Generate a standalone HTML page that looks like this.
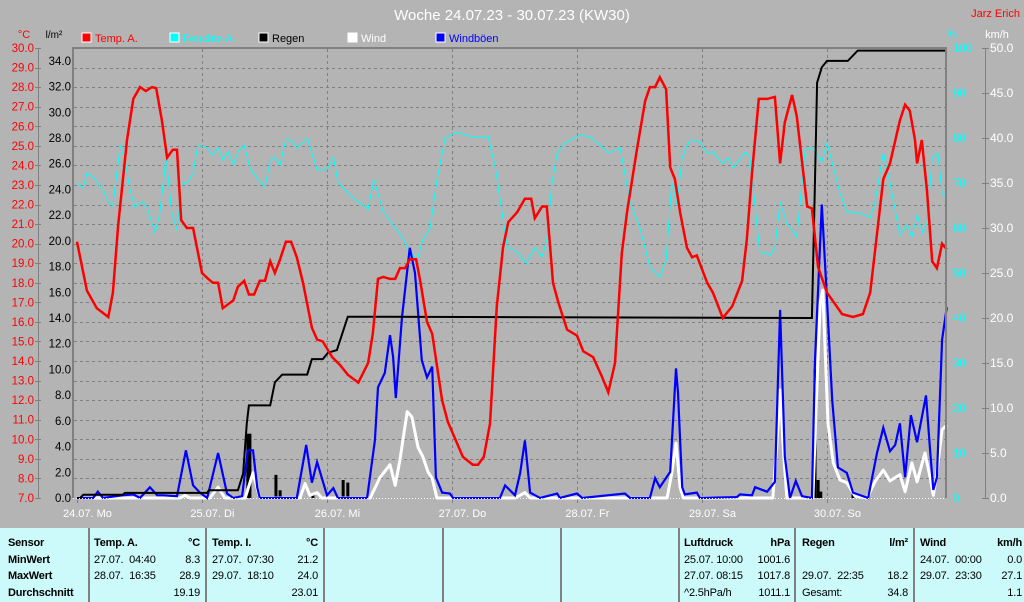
<!DOCTYPE html>
<html><head><meta charset="utf-8"><style>
html,body{margin:0;padding:0;}
body{width:1024px;height:602px;background:#b4b4b4;position:relative;overflow:hidden;font-family:"Liberation Sans",sans-serif;}
svg{position:absolute;left:0;top:0;}
.tbl{position:absolute;left:0;top:528px;width:1024px;height:74px;background:#ccfafa;}
.col{position:absolute;top:0;height:74px;border-left:2px solid #808080;}
.cell{position:absolute;font-size:11px;line-height:16.5px;color:#000;white-space:pre;letter-spacing:-0.2px;}
.b{font-weight:bold;}
</style></head><body>
<svg id="chart" width="1024" height="528"></svg>
<div class="tbl">
 <div class="col" style="left:88px"></div><div class="col" style="left:205px"></div><div class="col" style="left:323px"></div>
 <div class="col" style="left:442px"></div><div class="col" style="left:560px"></div><div class="col" style="left:678px"></div>
 <div class="col" style="left:794px"></div><div class="col" style="left:913px"></div>
 <div class="cell b" style="left:8px;top:7px">Sensor
MinWert
MaxWert
Durchschnitt</div>
 <div class="cell" style="left:94px;top:7px"><b>Temp. A.</b>
27.07.  04:40
28.07.  16:35</div>
 <div class="cell" style="left:160px;width:40px;text-align:right;top:7px"><b>°C</b>
8.3
28.9
19.19</div>
 <div class="cell" style="left:212px;top:7px"><b>Temp. I.</b>
27.07.  07:30
29.07.  18:10</div>
 <div class="cell" style="left:278px;width:40px;text-align:right;top:7px"><b>°C</b>
21.2
24.0
23.01</div>
 <div class="cell" style="left:684px;top:7px"><b>Luftdruck</b>
25.07. 10:00
27.07. 08:15
^2.5hPa/h</div>
 <div class="cell" style="left:745px;width:45px;text-align:right;top:7px"><b>hPa</b>
1001.6
1017.8
1011.1</div>
 <div class="cell" style="left:802px;top:7px"><b>Regen</b>

29.07.  22:35
Gesamt:</div>
 <div class="cell" style="left:868px;width:40px;text-align:right;top:7px"><b>l/m²</b>

18.2
34.8</div>
 <div class="cell" style="left:920px;top:7px"><b>Wind</b>
24.07.  00:00
29.07.  23:30</div>
 <div class="cell" style="left:980px;width:42px;text-align:right;top:7px"><b>km/h</b>
0.0
27.1
1.1</div>
</div>
<script>
const tempH=[0,1.9,3.8,6.0,6.9,7.9,9.6,10.8,12.1,13.2,14.4,15.2,16.3,17.3,18.4,19.2,20.0,21.1,22.3,24.0,25.2,26.1,27.1,28.0,30.0,30.9,32.1,33.0,34.0,35.1,36.1,37.1,38.0,39.0,40.1,41.1,42.2,43.4,45.1,46.1,47.2,49.0,50.5,52.0,54.0,55.9,56.8,57.8,58.8,60.1,61.1,62.0,63.0,63.9,65.1,65.9,67.2,68.2,70.1,71.2,74.1,76.0,77.0,78.1,79.3,80.6,81.8,82.8,84.5,86.0,87.2,87.9,89.3,90.2,90.8,91.4,92.4,94.1,96.0,97.2,99.1,100.8,102.0,103.3,104.6,105.6,107.5,109.1,110.0,111.0,111.9,113.1,113.9,114.8,115.8,117.1,118.1,119.0,121.0,122.1,124.0,125.8,127.7,128.6,129.6,130.9,132.5,134.0,135.0,135.9,137.3,138.2,140.2,141.1,142.3,144.0,146.9,149.0,150.9,152.3,153.6,154.8,156.1,158.0,159.0,159.9,160.9,161.3,162.2,163.2,164.2,165.1,166.1,167.0];
const tempV=[20.1,17.6,16.7,16.25,17.5,20.9,25.3,27.4,28.0,27.8,28.0,27.95,26.3,24.4,24.8,24.8,21.2,20.8,20.8,18.5,18.2,18.0,18.0,16.7,17.1,17.8,18.1,17.4,17.4,18.1,18.1,19.1,18.5,19.2,20.1,20.1,19.3,18.0,15.7,15.1,15.0,14.2,13.8,13.3,12.9,13.9,15.4,18.2,18.3,18.2,18.2,18.75,18.75,19.2,19.2,18.1,16.0,15.4,12.0,10.9,9.1,8.7,8.7,9.1,10.8,16.8,19.8,21.1,21.6,22.3,22.3,21.3,21.9,21.9,20.0,18.0,17.0,15.6,15.3,14.5,14.2,13.2,12.4,13.9,19.5,21.6,24.8,27.3,28.0,28.0,28.5,27.9,23.9,23.3,21.6,19.8,19.3,19.4,18.0,17.5,16.2,16.8,18.1,20.2,23.6,27.4,27.4,27.5,24.1,26.2,27.6,26.5,21.9,21.8,18.8,17.5,16.4,16.25,16.4,17.5,20.5,23.3,24.1,26.3,27.1,26.8,25.3,24.1,25.3,22.7,19.1,18.75,20.0,19.7];
const humH=[0,1.2,1.9,3.1,5.0,6.0,6.9,8.3,9.2,10.2,11.1,12.5,13.4,15.0,15.9,17.1,18.2,19.2,20.2,21.3,22.3,23.2,25.0,25.9,27.1,28.0,29.0,30.0,30.9,32.1,33.2,34.8,36.1,37.1,38.0,39.0,40.1,41.3,42.2,44.2,46.1,48.0,49.2,50.1,52.4,54.3,55.9,57.0,58.8,60.7,62.4,63.9,65.3,66.4,67.8,69.1,70.7,73.0,76.0,78.9,80.3,82.6,84.5,86.2,87.9,89.3,90.2,91.2,92.2,93.7,96.6,98.5,99.8,102.0,104.3,106.2,108.1,110.0,111.9,113.1,114.2,115.2,116.2,117.7,119.6,121.0,122.1,124.0,125.0,126.0,128.3,129.2,131.1,133.1,134.0,135.0,136.3,138.2,139.8,141.3,143.0,144.0,146.5,147.8,150.3,152.3,153.2,154.8,156.1,158.0,159.4,160.3,161.3,162.4,163.2,164.2,165.3,166.1,167.0];
const humV=[70,68.9,72.2,71.3,68.4,65.6,65,78.4,75,68.4,64.7,65.8,64.7,58.9,63.3,75.6,63.3,59.6,70,70.2,72.2,78.4,77.8,76.2,77.8,75.1,76.9,74,76.9,78.4,73.3,70.7,69.1,75.1,75.6,74,79.8,79.3,77.8,80,72.9,72.9,75.8,70.2,67.3,65.6,64.2,70.7,63.6,60.7,58,54.7,52.9,57.3,60,70.7,80,81.3,80.2,80.4,73.6,55.8,54.7,52.2,55.6,53.6,57.3,70,76.7,78.9,80.7,80.2,79.1,76.7,77.8,65.6,60,51.3,49.1,52.9,70,65,75.8,79.6,79.1,76.7,76.9,74.4,75.6,73.3,76.9,75.8,54.7,54,55.6,65.8,61.1,58,77.3,77.8,74.7,78.9,67.8,63.6,63.3,62.4,65.6,76.7,70,58.4,60.7,58,62.9,58.9,61.1,75.6,76.7,67.8,66.9];
const rainSumH=[0,0.6,1.2,8.8,9.2,25.0,25.3,30.9,31.9,32.6,33.0,37.1,38.0,39.4,44.2,45.1,47.2,48.2,49.9,52.0,141.1,141.3,141.7,142.1,143.0,144.0,148.0,149.9,166.7];
const rainSumV=[0,0,0.25,0.25,0.4,0.4,0.6,0.6,1.9,5.8,7.2,7.2,9.0,9.6,9.6,10.8,10.8,11.3,11.5,14.1,14.0,17.5,24.7,32.3,33.5,34.0,34.0,34.8,34.8];
const rainBarH=[32.8,33.2,38.2,39.0,45.3,51.1,52.0,141.7,142.3,142.8,149.0,149.9];
const rainBarV=[5.0,5.0,1.8,0.6,0.3,1.4,1.2,10,1.4,0.5,0.3,0.3];
const gustH=[0,3.1,4.0,5.0,8.8,10.8,12.1,14.0,15.4,16.5,19.2,20.9,22.3,23.6,25.0,27.1,28.8,30.0,31.7,32.8,33.8,34.6,35.1,42.2,44.0,45.1,46.1,48.0,49.2,50.1,55.7,57.2,57.8,59.1,60.1,60.7,61.2,62.4,63.9,64.9,66.2,67.2,68.2,68.9,70.1,71.6,72.2,81.2,82.2,84.1,85.1,86.0,87.0,88.9,92.2,92.7,96.0,97.0,105.2,106.2,110.0,111.0,111.9,113.9,115.0,115.4,116.2,116.7,119.0,119.6,126.7,127.3,129.6,130.2,132.5,134.0,135.0,135.9,136.9,138.0,139.2,141.1,141.7,143.0,144.0,145.0,146.1,147.8,149.0,151.9,153.6,154.8,156.1,157.1,158.0,159.0,160.1,161.3,163.0,163.8,164.4,165.1,166.1,167.0];
const gustV=[0,0,0.7,0,0.3,0.4,0,1.2,0.3,0.3,0.2,5.3,1.4,0.6,0,5.0,0.5,0,0.2,5.3,5.3,1.2,0,0,5.9,1.7,4.0,0.3,1.1,0,0,6.4,12.3,13.9,18.1,15.7,11.1,20.1,27.8,25,15.3,13.4,14.6,2.3,0.6,0.5,0,0,1.4,0.3,2.8,6.4,0.6,0,0.5,0,0.5,0,0.5,0,0,2.2,1.2,2.9,14.4,11.7,1.2,0.4,0.6,0,0.1,0.4,0.3,1.2,0.7,1.8,20.9,4.6,0,1.9,0.2,0,15.3,32.6,22,10.9,3.4,2.8,0.6,0,5.0,7.8,5.2,5.9,8.3,2.3,9.2,6.2,11.4,5.3,0.9,2.3,17.6,21.2];
const windH=[0,19.8,20.7,21.7,25.5,27.1,28.4,32.3,33.8,35.1,42.8,43.8,44.7,46.1,47.0,56.3,58.2,60.1,61.1,62.0,63.4,64.3,65.5,66.4,67.4,68.2,69.1,84.1,85.1,86.0,87.0,113.3,114.2,115.0,115.8,116.4,133.6,134.4,135.0,135.7,136.3,141.3,141.9,142.7,143.2,144.2,145.2,146.5,147.8,149.4,151.7,153.2,154.8,156.1,158.0,159.0,160.3,161.3,162.8,163.8,164.4,165.1,166.1,167.0];
const windV=[0,0,0.3,0,0,1.2,0,0,2.8,0,0,1.6,0.3,0.6,0,0,2.3,3.7,1.4,4.2,9.6,9.0,5.6,4.6,2.9,2.2,0,0,0.3,0.6,0,0,2.8,6.1,1.2,0,0,6.1,12,4.6,0,0,10.1,21.7,23.1,8.3,3.9,2.0,1.7,0.2,0,1.8,3.1,1.9,2.6,0.7,3.9,1.8,5.0,2.3,0.3,2.8,7.6,8.1];
const tempTicks=[30,29,28,27,26,25,24,23,22,21,20,19,18,17,16,15,14,13,12,11,10,9,8,7];
const rainTicks=[34,32,30,28,26,24,22,20,18,16,14,12,10,8,6,4,2,0];
const humTicks=[100,90,80,70,60,50,40,30,20,10,0];
const windTicks=[50,45,40,35,30,25,20,15,10,5,0];
const dayLabels=["24.07. Mo","25.07. Di","26.07. Mi","27.07. Do","28.07. Fr","29.07. Sa","30.07. So"];

const NS="http://www.w3.org/2000/svg";
const svg=document.getElementById('chart');
const X0=77,PX_DAY=125,YB=498,YT=48;
const xH=h=>X0+h*PX_DAY/24;
const yT=t=>YB-(t-7)*(YB-YT)/23;
const yR=r=>YB-r*(YB-YT)/35;
const yHum=p=>YB-p*(YB-YT)/100;
const yW=w=>YB-w*(YB-YT)/50;
function mk(tag,attrs,parent){const e=document.createElementNS(NS,tag);for(const k in attrs)e.setAttribute(k,attrs[k]);(parent||svg).appendChild(e);return e;}
function txt(s,x,y,fill,anchor,size,parent){const t=mk('text',{x:x,y:y,fill:fill,'text-anchor':anchor||'start','font-size':size||12,'font-family':'Liberation Sans, sans-serif'},parent);t.textContent=s;return t;}

let e=txt("Woche 24.07.23 - 30.07.23 (KW30)",512,20,"#ffffff","middle",15);


e=txt("Jarz Erich",1020,17,"#ff0000","end",11);


e=txt("°C",24,38,"#ff0000","middle",11);


e=txt("l/m²",54,38,"#000000","middle",10);


e=txt("%",952,38,"#00ffff","middle",11);


e=txt("km/h",997,38,"#ffffff","middle",11);



const legNames=["Temp. A.","Feuchte A.","Regen","Wind","Windböen"];
const legColors=["#ff0000","#00ffff","#000000","#ffffff","#0000ff"];
const legX=[82,170,259,348,436];
for(let i=0;i<legNames.length;i++){
 const g=mk('g',{});
 
 
 mk('rect',{x:legX[i],y:33,width:9,height:9,fill:legColors[i],stroke:'#ffffff','stroke-width':1},g);
 txt(legNames[i],legX[i]+13,42,i===2?'#000':legColors[i],'start',11,g);
}

const grid=mk('g',{stroke:'#808080','stroke-width':1,'stroke-dasharray':'3,3'});


tempTicks.forEach(t=>{if(t<30&&t>7)mk('line',{x1:74,x2:945,y1:Math.round(yT(t))+0.5,y2:Math.round(yT(t))+0.5},grid);});
for(let d=1;d<7;d++){const x=Math.round(xH(d*24))+0.5;mk('line',{x1:x,x2:x,y1:49,y2:497},grid);}

const ta=mk('g',{});


mk('line',{x1:38.5,x2:38.5,y1:48,y2:498,stroke:'#808080','stroke-width':1},ta);
tempTicks.forEach(t=>{const y=yT(t);mk('line',{x1:35,x2:41,y1:Math.round(y)+0.5,y2:Math.round(y)+0.5,stroke:'#808080'},ta);txt(t.toFixed(1),34,y+4,'#ff0000','end',11.5,ta);});
const ra=mk('g',{});


rainTicks.forEach(r=>{txt(r.toFixed(1),71,yR(r)+4,'#000','end',11.5,ra);});
const ha=mk('g',{});


humTicks.forEach(p=>{txt(String(p),953,yHum(p)+4,'#00ffff','start',11.5,ha);});
const wa=mk('g',{});


mk('line',{x1:985.5,x2:985.5,y1:48,y2:498,stroke:'#808080'},wa);
windTicks.forEach(w=>{const y=Math.round(yW(w))+0.5;mk('line',{x1:982,x2:989,y1:y,y2:y,stroke:'#808080'},wa);txt(w.toFixed(1),990,yW(w)+4,'#ffffff','start',12,wa);});

const dl=mk('g',{});


dayLabels.forEach((s,i)=>{txt(s,xH(i*24+2),517,'#ffffff','middle',11,dl);mk('line',{x1:Math.round(xH(i*24))+0.5,x2:Math.round(xH(i*24))+0.5,y1:499,y2:503,stroke:'#808080'},dl);});

function path(H,V,yf){return H.map((h,i)=>(i?'L':'M')+xH(h).toFixed(1)+','+yf(V[i]).toFixed(1)).join('');}

e=mk('path',{d:path(humH,humV,yHum),fill:'none',stroke:'#00ffff','stroke-width':1});


const rb=mk('g',{fill:'#000'});


rainBarH.forEach((h,i)=>{const b=mk('rect',{x:xH(h)-1.5,y:yR(rainBarV[i]),width:3,height:YB-yR(rainBarV[i])},rb);
 
 });
e=mk('path',{d:path(windH,windV,yW),fill:'none',stroke:'#ffffff','stroke-width':3,'stroke-linejoin':'round'});


e=mk('path',{d:path(gustH,gustV,yW),fill:'none',stroke:'#0000ff','stroke-width':2.2});


e=mk('path',{d:path(rainSumH,rainSumV,yR),fill:'none',stroke:'#000000','stroke-width':2});


e=mk('path',{d:path(tempH,tempV,yT),fill:'none',stroke:'#ff0000','stroke-width':2.5});



e=mk('path',{d:'M73,498 L73,48 L946,48 L946,498',fill:'none',stroke:'#808080','stroke-width':2});


e=mk('line',{x1:73,x2:946,y1:498.5,y2:498.5,stroke:'#ffffff','stroke-width':1,'stroke-dasharray':'1,2'});


</script>
</body></html>
